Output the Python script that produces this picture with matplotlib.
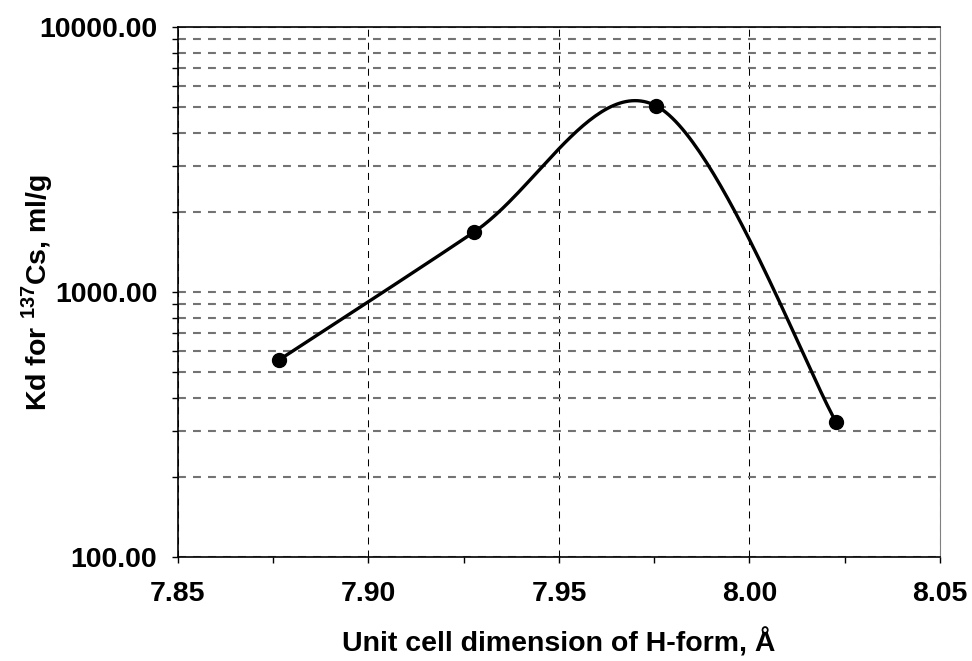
import numpy as np
import matplotlib
matplotlib.use('Agg')
import matplotlib.pyplot as plt
from matplotlib.ticker import FixedLocator, LogLocator, FuncFormatter, NullFormatter

plt.rcParams['font.family'] = ['Liberation Sans', 'DejaVu Sans']
plt.rcParams['mathtext.fontset'] = 'custom'
plt.rcParams['mathtext.rm'] = 'Liberation Sans:bold'
plt.rcParams['mathtext.bf'] = 'Liberation Sans:bold'

# measured points
cell_dim = [7.8765, 7.9277, 7.9756, 8.0227]
kd_cs = [554, 1684, 5035, 324]

x_ticks = [7.85, 7.90, 7.95, 8.00, 8.05]
x_minor = [7.875, 7.925, 7.975, 8.025]


def smooth_curve(xs, ys, n=60):
    """Excel-like smoothed line (Catmull-Rom bezier) in x / log10(y) space"""
    px = np.array(xs, dtype=float)
    py = np.log10(np.array(ys, dtype=float))
    # pad ends like Excel does
    px = np.concatenate([[px[0]], px, [px[-1]]])
    py = np.concatenate([[py[0]], py, [py[-1]]])
    out_x, out_y = [], []
    t = np.linspace(0, 1, n)
    for i in range(1, len(px) - 2):
        p0 = np.array([px[i], py[i]])
        p3 = np.array([px[i + 1], py[i + 1]])
        c1 = p0 + (np.array([px[i + 1], py[i + 1]]) - np.array([px[i - 1], py[i - 1]])) / 6
        c2 = p3 - (np.array([px[i + 2], py[i + 2]]) - np.array([px[i], py[i]])) / 6
        b = ((1 - t) ** 3)[:, None] * p0 + (3 * (1 - t) ** 2 * t)[:, None] * c1 \
            + (3 * (1 - t) * t ** 2)[:, None] * c2 + (t ** 3)[:, None] * p3
        out_x.extend(b[:, 0])
        out_y.extend(b[:, 1])
    return np.array(out_x), 10 ** np.array(out_y)


fig = plt.figure(figsize=(9.72, 6.61), dpi=100)
ax = fig.add_axes([0.1831, 0.1573, 0.967 - 0.1831, 0.959 - 0.1573])

sx, sy = smooth_curve(cell_dim, kd_cs)
ax.plot(sx, sy, color='black', linewidth=2.4, zorder=4)
ax.plot(cell_dim, kd_cs, 'o', color='black', markersize=10, zorder=5)

ax.set_yscale('log')
ax.set_ylim(100, 10000)
ax.set_xlim(7.85, 8.05)

ax.xaxis.set_major_locator(FixedLocator(x_ticks))
ax.xaxis.set_minor_locator(FixedLocator(x_minor))
ax.xaxis.set_major_formatter(FuncFormatter(lambda v, p: f'{v:.2f}'))
ax.yaxis.set_major_locator(LogLocator(base=10, numticks=10))
ax.yaxis.set_minor_locator(LogLocator(base=10, subs=np.arange(2, 10), numticks=20))
ax.yaxis.set_major_formatter(FuncFormatter(lambda v, p: f'{v:.2f}'))
ax.yaxis.set_minor_formatter(NullFormatter())

# grid
ax.grid(True, which='both', axis='y', color='#737373', linestyle=(0, (3.8, 3.4)), linewidth=1.5)
ax.grid(True, which='major', axis='x', color='black', linestyle=(0, (6.7, 5.8)), linewidth=0.75)

ax.tick_params(axis='x', which='major', direction='out', length=4.5, width=1, labelsize=20.5, pad=13)
ax.tick_params(axis='y', which='major', direction='out', length=4.5, width=1, labelsize=20.5, pad=10.5)
ax.tick_params(axis='both', which='minor', direction='out', length=4.5, width=1)
for lab in ax.get_xticklabels() + ax.get_yticklabels():
    lab.set_fontweight('bold')

ax.spines['left'].set_linewidth(1.2)
ax.spines['bottom'].set_linewidth(1.2)
ax.spines['top'].set_linewidth(1.2)
ax.spines['right'].set_color('#808080')

ax.set_xlabel('Unit cell dimension of H-form, Å', fontsize=20.5, fontweight='bold')
ax.set_ylabel(r'Kd for $^{137}$Cs, ml/g', fontsize=20.5, fontweight='bold')
ax.xaxis.set_label_coords(0.5, -0.134)
ax.yaxis.set_label_coords(-0.161, 0.5)

fig.savefig('out.png', dpi=100, facecolor='white')
